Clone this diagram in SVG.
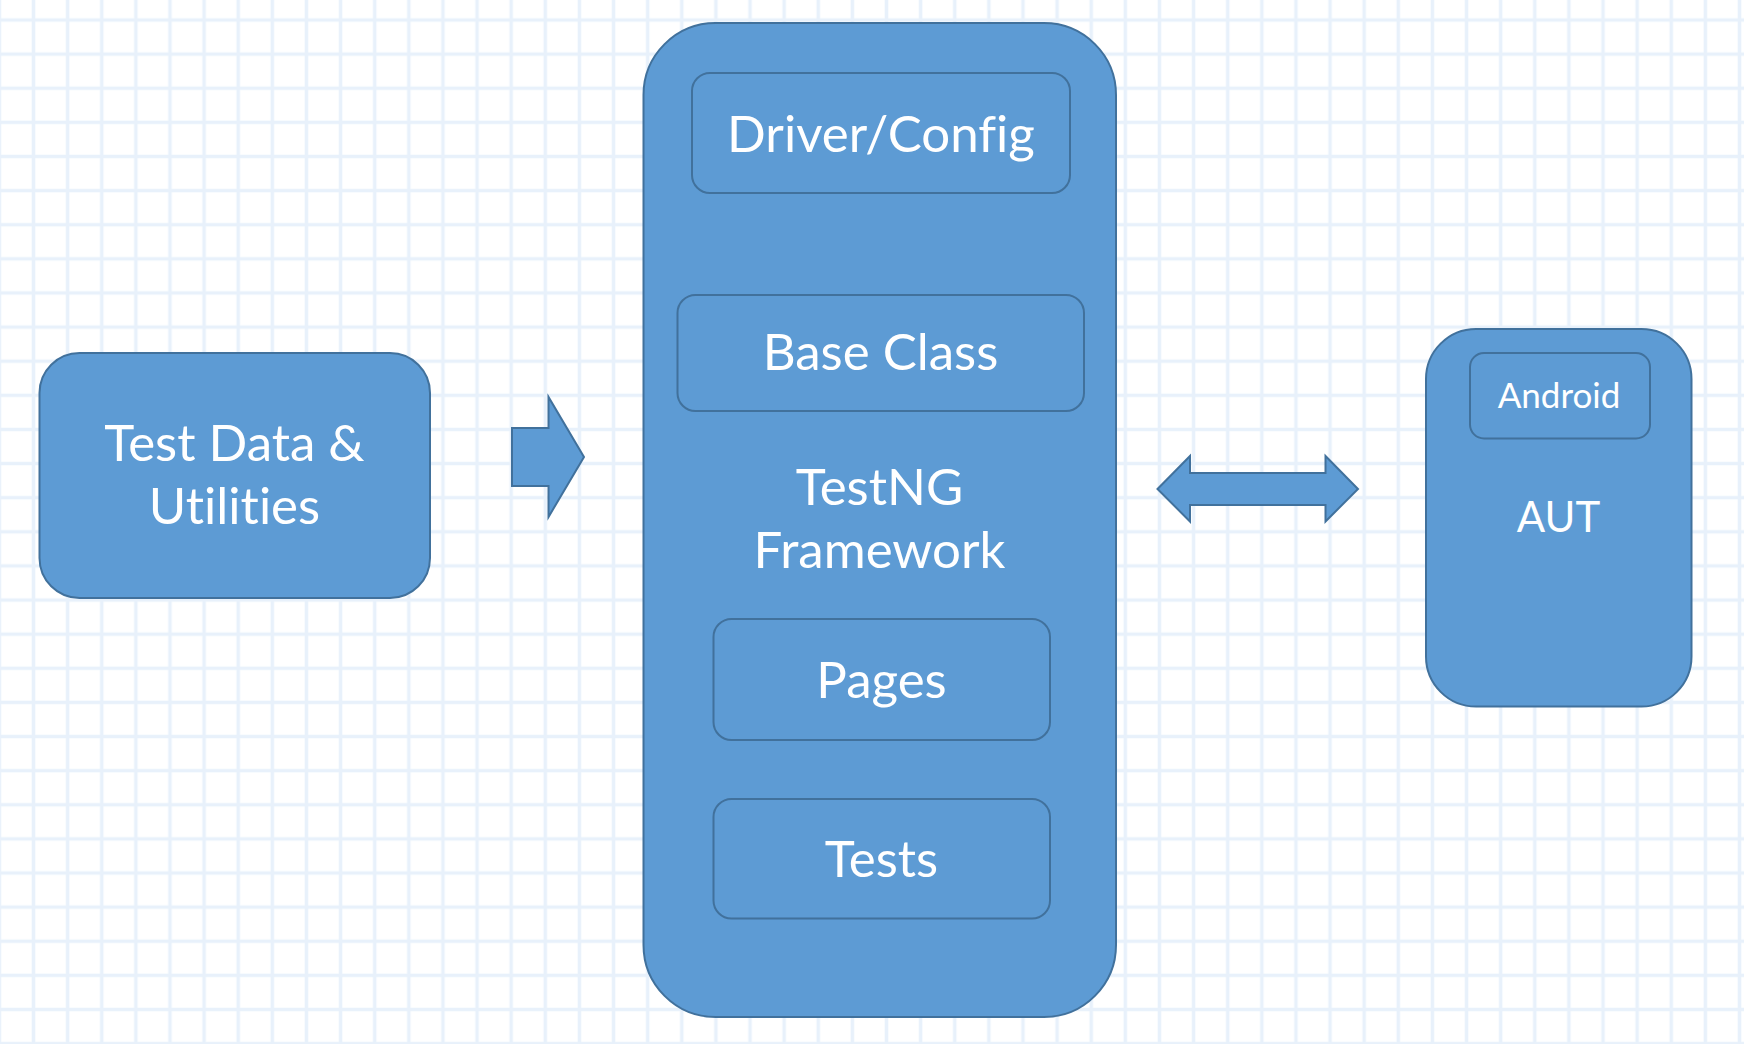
<svg xmlns="http://www.w3.org/2000/svg" width="1744" height="1044" viewBox="0 0 1744 1044">
<defs>
<pattern id="grid" x="16.44" y="2.94" width="34.12" height="34.12" patternUnits="userSpaceOnUse">
<line x1="17.06" y1="0" x2="17.06" y2="34.12" stroke="#E8F1FB" stroke-width="3.5"/>
<line x1="0" y1="17.06" x2="34.12" y2="17.06" stroke="#E8F1FB" stroke-width="3.5"/>
</pattern>
<style>
.box{fill:#5D9BD4;stroke:#41719C;stroke-width:2}
.inner{fill:#5D9BD4;stroke:#41719C;stroke-width:2}
.t{fill:#FFFFFF;font-family:"Lato","Liberation Sans",sans-serif;text-anchor:middle;font-size:51px;font-variant-ligatures:none;font-feature-settings:"liga" 0,"clig" 0}
.arrow{fill:#5D9BD4;stroke:#41719C;stroke-width:2;stroke-linejoin:miter}
</style>
</defs>
<rect width="1744" height="1044" fill="#FFFFFF"/>
<rect width="1744" height="1044" fill="url(#grid)"/>

<g id="test-data">
<rect class="box" x="39.5" y="353" width="390.5" height="245" rx="40" ry="40"/>
<text class="t" x="234.5" y="461">Test Data &amp;</text>
<text class="t" x="234.5" y="524">Utilities</text>
</g>

<g id="testng-framework">
<rect class="box" x="643.5" y="23" width="472.5" height="994" rx="72" ry="72"/>
<text class="t" x="879.5" y="505">TestNG</text>
<text class="t" x="879.5" y="568">Framework</text>
</g>

<g id="driver-config">
<rect class="inner" x="692" y="73" width="378" height="120" rx="18" ry="18"/>
<text class="t" x="881" y="152">Driver/Config</text>
</g>

<g id="base-class">
<rect class="inner" x="677.5" y="295" width="406.5" height="116" rx="18" ry="18"/>
<text class="t" x="880.5" y="370">Base Class</text>
</g>

<g id="pages">
<rect class="inner" x="713.5" y="619" width="336.5" height="121" rx="18" ry="18"/>
<text class="t" x="881.5" y="698">Pages</text>
</g>

<g id="tests">
<rect class="inner" x="713.5" y="799" width="336.5" height="119.5" rx="18" ry="18"/>
<text class="t" x="881.5" y="877">Tests</text>
</g>

<g id="aut">
<rect class="box" x="1426" y="329" width="265.5" height="377.5" rx="50" ry="50"/>
<text class="t" x="1558.5" y="532" style="font-size:42px">AUT</text>
</g>

<g id="android">
<rect class="inner" x="1470" y="353" width="180" height="85.5" rx="14" ry="14"/>
<text class="t" x="1559" y="408" style="font-size:35px">Android</text>
</g>

<g id="connectors">
<polygon class="arrow" points="512,428 548.5,428 548.5,397 584,457 548.5,517 548.5,486 512,486"/>
<polygon class="arrow" points="1157.5,489 1190,456 1190,473 1325.5,473 1325.5,456 1358,489 1325.5,521.5 1325.5,505 1190,505 1190,521.5"/>
</g>
</svg>
